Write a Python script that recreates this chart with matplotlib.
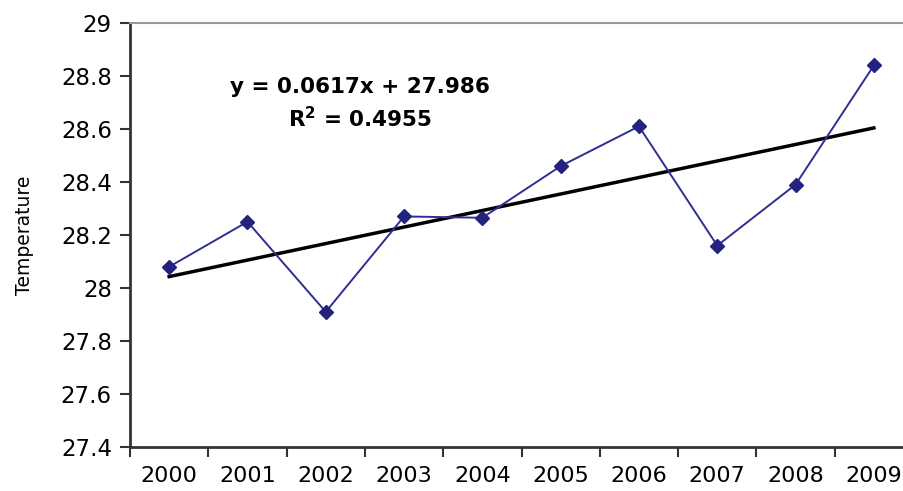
import numpy as np
import matplotlib.pyplot as plt

plt.rcParams['font.family'] = ['DejaVu Sans']

years = ['2000', '2001', '2002', '2003', '2004', '2005', '2006', '2007', '2008', '2009']
temperature = [28.08, 28.25, 27.91, 28.27, 28.265, 28.46, 28.61, 28.16, 28.39, 28.84]
yticks = [27.4, 27.6, 27.8, 28, 28.2, 28.4, 28.6, 28.8, 29]

fig = plt.figure(figsize=(9.04, 4.91), dpi=100)
# the right edge of the plot area sits just outside the picture
ax = fig.add_axes([130 / 904, 1 - 447 / 491, 783 / 904, 424 / 491])

x = np.arange(1, len(years) + 1)
ax.plot(x, temperature, color='#2e2e94', lw=1.4, marker='D', markersize=7,
        markerfacecolor='#23237e', markeredgecolor='#23237e', zorder=3)

# linear trend
slope, intercept = np.polyfit(x, temperature, 1)
ax.plot([x[0], x[-1]], [slope * x[0] + intercept, slope * x[-1] + intercept],
        color='black', lw=2.5, zorder=2)

ax.set_xlim(0.5, len(years) + 0.5)
ax.set_ylim(27.4, 29)
ax.set_yticks(yticks)
ax.set_yticklabels(['27.4', '27.6', '27.8', '28', '28.2', '28.4', '28.6', '28.8', '29'])
ax.set_xticks(x)
ax.set_xticklabels(years)
ax.set_xticks(np.arange(0.5, len(years) + 1, 1), minor=True)
ax.tick_params(axis='x', which='major', length=0, pad=14, labelsize=16)
ax.tick_params(axis='x', which='minor', length=7, width=1.5, direction='out', color='#333333')
ax.tick_params(axis='y', length=7, width=1.5, direction='out', color='#333333',
               labelsize=16.5, pad=6)

ax.spines['left'].set_linewidth(2)
ax.spines['left'].set_color('#333333')
ax.spines['bottom'].set_linewidth(2)
ax.spines['bottom'].set_color('#333333')
ax.spines['top'].set_color('#999999')
ax.spines['top'].set_linewidth(1.5)
ax.spines['right'].set_visible(False)

ax.set_ylabel('Temperature', fontsize=13.5)
ax.yaxis.set_label_coords(-0.122, 0.5)

ax.text(0.294, 0.835, 'y = 0.0617x + 27.986', transform=ax.transAxes,
        ha='center', va='baseline', fontsize=15.5, fontweight='bold')
ax.text(0.294, 0.755, 'R$^\\mathbf{2}$ = 0.4955', transform=ax.transAxes,
        ha='center', va='baseline', fontsize=15.5, fontweight='bold')

fig.savefig('out.png', dpi=100)
